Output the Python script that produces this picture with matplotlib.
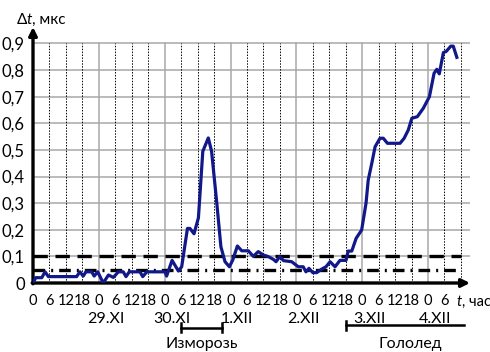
import matplotlib.pyplot as plt

# time in hours from 0 h of 28.XI, delay in microseconds
hours = [0, 1, 3.2, 4.4, 5.6, 15.9, 17.1, 18.3, 19.3, 21.4, 22.3, 23.6, 25.6, 27.5,
         29.3, 31.1, 32.9, 33.9, 35.1, 39.0, 40.0, 41.5, 48.1, 48.7, 50.7, 53.0,
         54.2, 56.3, 57.2, 58.7, 60.3, 61.9, 63.9, 65.1, 67.0, 68.5, 70.0, 71.6,
         72.8, 74.5, 76.1, 78.5, 80.3, 82.1, 84.0, 85.8, 87.6, 88.6, 90.0, 91.3,
         94.3, 96.7, 98.5, 99.5, 100.6, 102.0, 103.4, 105.2, 106.8, 108.3, 110.1,
         111.9, 114.1, 114.9, 116.2, 117.8, 119.8, 121.4, 122.2, 123.5, 124.7,
         126.5, 127.7, 129.2, 133.8, 135.3, 136.8, 138.1, 140.1, 142.3, 144.5,
         146.2, 147.2, 148.1, 149.6, 150.6, 152.3, 153.2, 154.5]
delay = [0.0, 0.02, 0.02, 0.042, 0.024, 0.024, 0.042, 0.026, 0.042, 0.042, 0.026,
         0.042, 0.0, 0.03, 0.021, 0.042, 0.042, 0.024, 0.042, 0.042, 0.024, 0.042,
         0.042, 0.026, 0.085, 0.045, 0.061, 0.205, 0.205, 0.185, 0.245, 0.495,
         0.545, 0.495, 0.30, 0.136, 0.08, 0.061, 0.086, 0.139, 0.121, 0.121, 0.10,
         0.118, 0.105, 0.099, 0.089, 0.08, 0.10, 0.084, 0.08, 0.061, 0.061, 0.042,
         0.055, 0.039, 0.039, 0.052, 0.061, 0.08, 0.061, 0.085, 0.085, 0.12, 0.12,
         0.168, 0.199, 0.30, 0.387, 0.45, 0.512, 0.544, 0.544, 0.525, 0.525, 0.544,
         0.575, 0.619, 0.625, 0.657, 0.70, 0.788, 0.803, 0.786, 0.866, 0.87, 0.89,
         0.89, 0.848]

tick_hours = list(range(0, 151, 6))
tick_labels = [str(h % 24) for h in tick_hours]
y_ticks = [0, 0.1, 0.2, 0.3, 0.4, 0.5, 0.6, 0.7, 0.8, 0.9]
y_labels = ["0", "0,1", "0,2", "0,3", "0,4", "0,5", "0,6", "0,7", "0,8", "0,9"]
day_starts = [24, 48, 72, 96, 120, 144]
day_labels = ["29.XI", "30.XI", "1.XII", "2.XII", "3.XII", "4.XII"]
level_dash = 0.1
level_dashdot = 0.05
frost = (54, 69)
glaze = (114, 157)

plt.rcParams['font.family'] = ['Lato', 'DejaVu Sans']

fig = plt.figure(figsize=(4.9, 3.52), dpi=100)
ax = fig.add_axes([33 / 490, 1 - 283 / 352, 437 / 490, 256 / 352])
xmax, ymax = 159.3, 0.962
ax.set_xlim(0, xmax)
ax.set_ylim(0, ymax)
for s in ax.spines.values():
    s.set_visible(False)

# grid
for y in y_ticks[1:]:
    ax.plot([0, xmax], [y, y], color="#a8a8a8", lw=1.1, zorder=1)
for h in range(6, 157, 6):
    if h % 24 == 0:
        ax.plot([h, h], [0, 0.9], color="#a8a8a8", lw=1.1, zorder=1)
    else:
        ax.plot([h, h], [0, 0.9], color="black", lw=0.7, ls=(0, (1.5, 1.5)), zorder=1)

# thresholds
ax.plot([0, 156], [level_dash, level_dash], color="black", lw=2.4, dashes=(4.3, 2.3), zorder=3)
ax.plot([0, 156], [level_dashdot, level_dashdot], color="black", lw=2.4,
        dashes=(3.5, 1.8, 0.6, 1.8), zorder=3)

ax.plot(hours, delay, color="#10188a", lw=2.3, zorder=5, solid_joinstyle="round")

# axes with arrows
arrow = dict(arrowstyle="-|>", color="black", lw=2.4, mutation_scale=12, shrinkA=0, shrinkB=0)
ax.annotate("", xy=(0, ymax), xytext=(0, -0.003), arrowprops=arrow, annotation_clip=False)
ax.annotate("", xy=(xmax, 0), xytext=(-0.3, 0), arrowprops=arrow, annotation_clip=False)

ax.set_xticks(tick_hours, tick_labels)
ax.set_yticks(y_ticks, y_labels)
ax.tick_params(axis="x", length=0, pad=8, labelsize=10.5)
ax.tick_params(axis="y", length=0, pad=6, labelsize=12)

# axis names: upright symbol/unit, italic variable
d_txt = ax.text(-6, 0.99, "Δ", fontsize=11, ha="left", va="center", clip_on=False)
t_txt = ax.annotate("t", xy=(1, 0.5), xycoords=d_txt, fontsize=11, style="italic",
                    ha="left", va="center", annotation_clip=False)
ax.annotate(", мкс", xy=(1, 0.5), xycoords=t_txt, fontsize=11, ha="left", va="center",
            annotation_clip=False)
tx_txt = ax.text(154.5, -0.072, "t", fontsize=10.5, style="italic", ha="left", va="center",
                 clip_on=False)
ax.annotate(", час", xy=(1, 0.5), xycoords=tx_txt, fontsize=10.5, ha="left", va="center",
            annotation_clip=False)

for d, lab in zip(day_starts, day_labels):
    ax.text(d + 2.5, -0.135, lab, fontsize=11.5, ha="center", va="center", clip_on=False)

# frost bracket
ax.plot(frost, [-0.169, -0.169], color="black", lw=1.8, clip_on=False)
for h in frost:
    ax.plot([h, h], [-0.152, -0.186], color="black", lw=1.8, clip_on=False)
ax.text(sum(frost) / 2, -0.228, "Изморозь", fontsize=11.5, ha="center", va="center", clip_on=False)

# glaze bracket
ax.plot(glaze, [-0.158, -0.158], color="black", lw=1.8, clip_on=False)
ax.plot([glaze[0], glaze[0]], [-0.141, -0.175], color="black", lw=1.8, clip_on=False)
ax.text(137.4, -0.228, "Гололед", fontsize=11.5, ha="center", va="center", clip_on=False)

fig.savefig("out.png", dpi=100)
